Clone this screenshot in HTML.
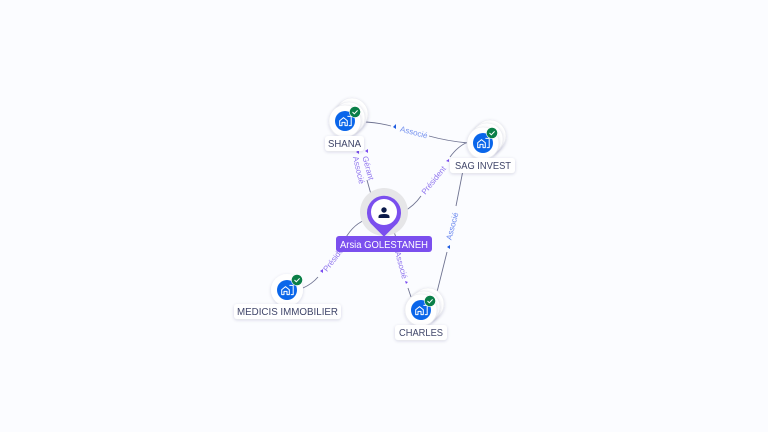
<!DOCTYPE html>
<html>
<head>
<meta charset="utf-8">
<style>
html,body{margin:0;padding:0;background:#fbfcff;}
svg{display:block;font-family:"Liberation Sans",sans-serif;}
</style>
</head>
<body>
<svg width="768" height="432" viewBox="0 0 768 432" xmlns="http://www.w3.org/2000/svg">
<defs>
<filter id="s" x="-30%" y="-30%" width="160%" height="160%"><feDropShadow dx="0" dy="1" stdDeviation="1.500" flood-color="#27305a" flood-opacity=".16"/></filter>
<g id="ico">
<circle r="10" fill="#0a66ea"/>
<path d="M-5.300 -.2 L-1.500 -3.400 L2.300 -.2 V4.600 H0 V1.400 H-3 V4.600 H-5.300 Z M2.400 -4.600 H6.200 V4.600 H3.800" fill="none" stroke="#fff" stroke-width="1" stroke-linejoin="round"/>
</g>
<g id="chk">
<circle r="5.600" fill="#0a7f47" stroke="#fff" stroke-width=".6"/>
<path d="M-2.500 0 L-.7 1.800 L2.600 -1.600" fill="none" stroke="#fff" stroke-width="1"/>
</g>
</defs>
<rect width="768" height="432" fill="#fbfcff"/>

<g fill="none" stroke="#6f7391" stroke-width=".9">
<path d="M366 122 Q380 123 391 126"/>
<path d="M429 136 Q447 141 468 143"/>
<path d="M367 180 L372 198"/>
<path d="M403 212 Q414 206 421 196"/>
<path d="M450 157 Q458 146 468 142"/>
<path d="M368 219 Q354 223 345 239"/>
<path d="M318 277 Q312 284 303 288"/>
<path d="M393 228 L396 238"/>
<path d="M408 288 L411 297"/>
<path d="M465 160 L456 206"/>
<path d="M447 252 L437 292"/>
</g>

<g font-size="8">
<text x="414" y="135" text-anchor="middle" fill="#7390ee" transform="rotate(15 414 132)">Associé</text>
<text x="368.500" y="171" text-anchor="middle" fill="#8f74ee" transform="rotate(75 368.500 168)">Gérant</text>
<text x="359" y="173" text-anchor="middle" fill="#8f74ee" transform="rotate(77 359 170)">Associé</text>
<text x="433.500" y="183" text-anchor="middle" fill="#8f74ee" transform="rotate(-51 433.500 180)">Président</text>
<text x="335" y="260" text-anchor="middle" fill="#8f74ee" transform="rotate(-52 335 257)">Président</text>
<text x="401.500" y="268" text-anchor="middle" fill="#8f74ee" transform="rotate(75 401.500 265)">Associé</text>
<text x="452" y="229" text-anchor="middle" fill="#6684ee" transform="rotate(-75 452 226)">Associé</text>
</g>

<g fill="#7a4cf0">
<path d="M365 151 L368 149 L368 153 Z"/>
<path d="M356 152 L359 150 L359 154 Z"/>
<path d="M446 161 L449 159 L449 162 Z"/>
<path d="M320 271 L323 269 L323 273 Z"/>
<path d="M405 281 L408 282 L406 284 Z"/>
</g>
<g fill="#1d5be0">
<path d="M393 127 L396 124 L396 129 Z"/>
<path d="M447 247 L450 245 L450 249 Z"/>
</g>

<!-- SHANA -->
<g stroke="#e9eaef" stroke-width=".6">
<circle cx="352" cy="114" r="16" fill="#fff" filter="url(#s)"/><circle cx="349" cy="118" r="16" fill="#fff" filter="url(#s)"/><circle cx="345" cy="121" r="16" fill="#fff" filter="url(#s)"/>
</g>
<use href="#ico" x="345" y="121"/><use href="#chk" x="355" y="112"/>
<rect x="325" y="136" width="39" height="15" rx="3" fill="#fff" filter="url(#s)"/>
<text x="344.500" y="147" font-size="10" text-anchor="middle" textLength="33" lengthAdjust="spacingAndGlyphs" fill="#3f4569">SHANA</text>

<!-- SAG INVEST -->
<g stroke="#e9eaef" stroke-width=".6">
<circle cx="490" cy="136" r="16" fill="#fff" filter="url(#s)"/><circle cx="487" cy="139" r="16" fill="#fff" filter="url(#s)"/><circle cx="483" cy="143" r="16" fill="#fff" filter="url(#s)"/>
</g>
<use href="#ico" x="483" y="143"/><use href="#chk" x="492" y="133"/>
<rect x="450" y="158" width="65" height="15" rx="3" fill="#fff" filter="url(#s)"/>
<text x="483" y="169" font-size="10" text-anchor="middle" textLength="56" lengthAdjust="spacingAndGlyphs" fill="#3f4569">SAG INVEST</text>

<!-- MEDICIS -->
<circle cx="287" cy="290" r="16" fill="#fff" filter="url(#s)"/>
<use href="#ico" x="287" y="290"/><use href="#chk" x="297" y="280"/>
<rect x="234" y="304" width="107" height="15" rx="3" fill="#fff" filter="url(#s)"/>
<text x="287.500" y="315" font-size="10" text-anchor="middle" textLength="101" lengthAdjust="spacingAndGlyphs" fill="#3f4569">MEDICIS IMMOBILIER</text>

<!-- CHARLES -->
<g stroke="#e9eaef" stroke-width=".6">
<circle cx="428" cy="304" r="16" fill="#fff" filter="url(#s)"/><circle cx="424" cy="307" r="16" fill="#fff" filter="url(#s)"/><circle cx="421" cy="310" r="16" fill="#fff" filter="url(#s)"/>
</g>
<use href="#ico" x="421" y="310"/><use href="#chk" x="430" y="301"/>
<rect x="395" y="325" width="52" height="15" rx="3" fill="#fff" filter="url(#s)"/>
<text x="421" y="336" font-size="10" text-anchor="middle" textLength="44" lengthAdjust="spacingAndGlyphs" fill="#3f4569">CHARLES</text>

<!-- Arsia -->
<circle cx="384" cy="212" r="24" fill="#e6e6e8"/>
<path d="M384 236 L373.500 225.500 A16.500 16.500 0 1 1 394.500 225.500 Z" fill="#7b4fee" stroke="#7b4fee" stroke-width="1" stroke-linejoin="round"/>
<circle cx="384" cy="212" r="13" fill="#fff"/>
<circle cx="384" cy="210" r="2.700" fill="#0b1a4a"/>
<path d="M378.500 218 V216.500 Q378.500 214 384 214 Q389.500 214 389.500 216.500 V218 Z" fill="#0b1a4a"/>
<rect x="336" y="236" width="96" height="16" rx="3" fill="#7b4fee"/>
<text x="384" y="248" font-size="10" text-anchor="middle" textLength="88" lengthAdjust="spacingAndGlyphs" fill="#fff">Arsia GOLESTANEH</text>
</svg>
</body>
</html>
